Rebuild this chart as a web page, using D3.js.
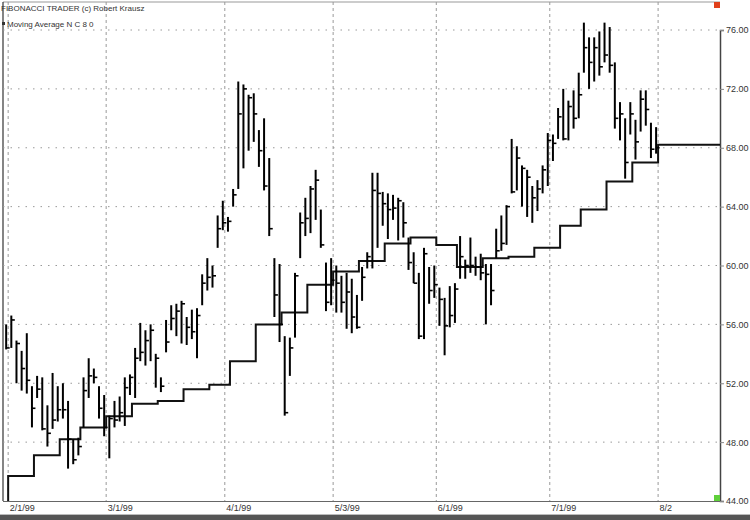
<!DOCTYPE html>
<html>
<head>
<meta charset="utf-8">
<script src="https://cdn.jsdelivr.net/npm/d3@7"></script>
<style>
  body { margin: 0; background: #fff; }
  svg { display: block; font-family: "Liberation Sans", Arial, sans-serif; }
</style>
</head>
<body>
<svg width="750" height="520"></svg>
<script>
// daily bars, one per trading day from 2/1/99 to 8/2/99
const highs = [
  56.0, 56.6, 54.9, 54.2, 55.4, 51.8, 52.5, 52.4, 50.5, 52.7,
  51.8, 52.0, 50.8, 48.2, 48.3, 52.4, 53.7, 53.0, 51.8, 51.2,
  49.8, 50.8, 51.1, 52.4, 52.6, 54.4, 56.1, 55.6, 56.0, 54.0,
  52.4, 56.3, 57.3, 57.4, 57.6, 56.5, 57.0, 57.1, 59.4, 60.5,
  60.0, 63.4, 64.4, 63.3, 65.2, 72.5, 72.3, 71.6, 71.7, 69.2,
  70.0, 67.3, 60.5, 60.1, 55.2, 55.1, 59.5, 63.6, 64.6, 65.4,
  66.5, 63.8, 60.2, 60.5, 60.0, 59.3, 59.5, 59.1, 58.0, 59.9,
  60.9, 66.3, 66.3, 65.0, 64.9, 64.8, 64.6, 64.3, 61.9, 60.9,
  59.5, 61.2, 59.9, 60.0, 58.5, 57.8, 58.6, 58.8, 62.0, 60.4,
  61.9, 60.6, 60.8, 60.1, 60.1, 62.5, 63.4, 64.1, 68.6, 68.1,
  66.8, 66.5, 65.4, 65.8, 66.8, 69.0, 68.9, 70.7, 72.0, 71.2,
  71.9, 73.1, 76.5, 75.5, 75.5, 75.9, 76.5, 76.2, 73.8, 71.1,
  70.0, 71.1, 69.9, 71.9, 71.9, 69.7, 69.4
];
const lows = [
  54.3, 54.4, 52.0, 51.5, 51.3, 49.0, 51.0, 48.8, 47.7, 48.9,
  49.4, 49.6, 46.2, 46.5, 47.1, 49.0, 51.0, 52.0, 49.6, 48.4,
  46.9, 49.0, 49.4, 49.1, 51.2, 51.0, 53.5, 53.2, 53.5, 51.7,
  51.4, 54.1, 55.6, 55.2, 54.7, 54.6, 55.0, 53.7, 57.3, 58.3,
  58.5, 61.2, 62.4, 62.3, 64.0, 65.2, 66.6, 67.8, 68.4, 66.7,
  65.1, 62.0, 56.5, 54.8, 49.8, 52.5, 55.1, 60.5, 62.0, 62.2,
  63.1, 61.2, 56.9, 57.3, 56.8, 56.8, 55.7, 55.4, 55.7, 57.6,
  59.8, 59.8, 61.2, 62.7, 61.8, 63.1, 61.7, 61.9, 59.7, 58.8,
  55.0, 55.0, 57.4, 57.8, 55.9, 53.9, 55.8, 56.1, 59.1, 59.1,
  59.5, 59.3, 59.0, 56.0, 57.3, 60.5, 61.0, 61.4, 64.9, 65.1,
  64.0, 63.3, 62.9, 63.7, 64.9, 65.4, 67.1, 68.6, 68.5, 68.5,
  69.3, 70.0, 73.1, 72.0, 72.5, 72.9, 73.8, 73.1, 69.3, 68.5,
  65.9, 68.9, 67.2, 69.1, 69.5, 67.3, 67.6
];
const closes = [
  54.4, 56.3, 54.7, 53.0, 52.2, 50.3, 51.6, 48.9, 48.6, 49.5,
  50.2, 50.2, 48.2, 46.8, 47.7, 51.5, 52.5, 52.4, 50.3, 49.0,
  49.6, 49.5, 50.0, 51.7, 52.4, 53.7, 54.1, 54.9, 55.6, 53.7,
  51.8, 54.8, 56.4, 56.9, 57.4, 55.8, 55.5, 56.6, 58.8, 59.2,
  59.3, 62.5, 62.9, 63.0, 64.8, 70.3, 72.0, 71.4, 70.3, 67.8,
  65.4, 62.5, 58.0, 56.0, 50.0, 54.4, 59.3, 62.9, 63.2, 65.2,
  65.8, 61.4, 57.5, 59.0, 58.8, 57.5, 58.2, 56.5, 55.8, 59.2,
  60.6, 65.1, 64.9, 64.2, 63.8, 63.9, 64.4, 62.9, 60.2, 58.8,
  55.2, 60.8, 58.3, 58.7, 57.7, 55.9, 56.6, 58.4, 60.6, 60.0,
  60.0, 59.9, 59.5, 59.4, 58.3, 61.0, 61.5, 64.0, 65.0, 67.3,
  66.6, 66.0, 64.6, 65.2, 66.5, 68.5, 68.3, 70.1, 68.6, 70.8,
  70.0, 71.6, 74.8, 73.8, 74.8, 73.5, 74.3, 73.6, 70.0, 70.3,
  67.0, 70.3, 68.4, 71.3, 70.6, 67.9, 68.0
];

// weekly moving average (N C 8 0), one value per week
const maWeeks = [
  "1999-02-01", "1999-02-08", "1999-02-16", "1999-02-22", "1999-03-01",
  "1999-03-08", "1999-03-15", "1999-03-22", "1999-03-29", "1999-04-05",
  "1999-04-12", "1999-04-19", "1999-04-26", "1999-05-03", "1999-05-10",
  "1999-05-17", "1999-05-24", "1999-06-01", "1999-06-07", "1999-06-14",
  "1999-06-21", "1999-06-28", "1999-07-06", "1999-07-12", "1999-07-19",
  "1999-07-26", "1999-08-02"
];
const maValues = [
  45.7, 47.1, 48.2, 49.0, 49.75, 50.6, 50.8, 51.6, 51.9, 53.5,
  56.0, 56.8, 58.7, 59.6, 60.3, 61.5, 61.9, 61.4, 59.9, 60.5,
  60.6, 61.2, 62.7, 63.8, 65.7, 67.0, 68.2
];

const tickDates = ["1999-02-01", "1999-03-01", "1999-04-01", "1999-05-03", "1999-06-01", "1999-07-01", "1999-08-02"];
const tickLabels = ["2/1/99", "3/1/99", "4/1/99", "5/3/99", "6/1/99", "7/1/99", "8/2"];
const priceTicks = [44, 48, 52, 56, 60, 64, 68, 72, 76];
const holidays = ["1999-02-15", "1999-04-02", "1999-05-31", "1999-07-05"];

const svg = d3.select("svg");
const fmt = d3.timeFormat("%Y-%m-%d");

// trading days
const days = d3.timeDay.range(new Date(1999, 1, 1), new Date(1999, 7, 3))
  .filter(d => d.getDay() % 6 !== 0 && !holidays.includes(fmt(d)))
  .map(fmt);
const dayIndex = s => days.indexOf(s);

const plotLeft = 3, plotRight = 720, plotTop = 2, plotBottom = 501;
const x = d3.scaleLinear().domain([-1, 138]).range([plotLeft, plotRight]);
const y = d3.scaleLinear().domain([44, 76]).range([plotBottom, 30]);

// frame
svg.append("line").attr("x1", plotLeft).attr("x2", plotRight).attr("y1", plotTop).attr("y2", plotTop)
  .attr("stroke", "#999");
svg.append("line").attr("x1", plotLeft).attr("x2", plotLeft).attr("y1", plotTop).attr("y2", plotBottom)
  .attr("stroke", "#333").attr("stroke-width", 1.2);

// grid
svg.append("g")
  .selectAll("line")
  .data(priceTicks.slice(1))
  .join("line")
  .attr("x1", plotLeft).attr("x2", plotRight)
  .attr("y1", d => y(d)).attr("y2", d => y(d))
  .attr("stroke", "#999").attr("stroke-dasharray", "1.5,6");

svg.append("g")
  .selectAll("line")
  .data(tickDates)
  .join("line")
  .attr("x1", d => x(dayIndex(d))).attr("x2", d => x(dayIndex(d)))
  .attr("y1", plotTop).attr("y2", plotBottom)
  .attr("stroke", "#999").attr("stroke-dasharray", "3,3");

// axes
const yAxis = svg.append("g")
  .attr("transform", `translate(${plotRight},0)`)
  .call(d3.axisRight(y).tickValues(priceTicks).tickFormat(d3.format(".2f")).tickSize(4).tickPadding(2));
yAxis.select(".domain").attr("stroke", "#444").attr("stroke-width", 1.5);
yAxis.selectAll(".tick line").attr("stroke", "#888");
yAxis.selectAll("text").attr("font-size", 9).attr("fill", "#333")
  .attr("font-family", "Liberation Sans, Arial, sans-serif");

const xAxis = svg.append("g")
  .attr("transform", `translate(0,${plotBottom})`)
  .call(d3.axisBottom(x).tickValues(tickDates.map(dayIndex))
    .tickFormat((d, i) => tickLabels[i]).tickSize(0).tickPadding(4));
xAxis.select(".domain").attr("stroke", "#666").attr("d", `M${plotLeft},0.5H${plotRight}`);
xAxis.selectAll("text").attr("font-size", 9).attr("fill", "#333")
  .attr("text-anchor", "start").attr("dx", 1)
  .attr("font-family", "Liberation Sans, Arial, sans-serif");

// moving average step line
const maPts = [[dayIndex(maWeeks[0]), 44]]
  .concat(maWeeks.map((w, i) => [dayIndex(w), maValues[i]]))
  .concat([[x.domain()[1], maValues[maValues.length - 1]]]);
svg.append("path")
  .datum(maPts)
  .attr("fill", "none")
  .attr("stroke", "#111")
  .attr("stroke-width", 2)
  .attr("d", d3.line().x(d => x(d[0])).y(d => y(d[1])).curve(d3.curveStepAfter));

// price bars
const bars = highs.map((h, i) => ({ i, h, l: lows[i], c: closes[i] }));
const bg = svg.append("g").attr("stroke", "#000").attr("stroke-width", 2);
bg.selectAll("line.bar")
  .data(bars)
  .join("line")
  .attr("class", "bar")
  .attr("x1", d => x(d.i) - 2).attr("x2", d => x(d.i) - 2)
  .attr("y1", d => y(d.h)).attr("y2", d => y(d.l));
bg.selectAll("line.close")
  .data(bars)
  .join("line")
  .attr("class", "close")
  .attr("stroke-width", 1.6)
  .attr("x1", d => x(d.i) - 2).attr("x2", d => x(d.i) + 1.5)
  .attr("y1", d => y(d.c)).attr("y2", d => y(d.c));

// corner markers
svg.append("rect").attr("x", plotRight - 6).attr("y", plotTop).attr("width", 6).attr("height", 6).attr("fill", "#e0401a");
svg.append("rect").attr("x", plotRight - 6).attr("y", plotBottom - 6).attr("width", 6).attr("height", 6).attr("fill", "#5fd03a");

// title / legend
svg.append("text").attr("x", 1).attr("y", 11).attr("font-size", 8).attr("fill", "#333")
  .text("FIBONACCI TRADER (c) Robert Krausz");
svg.append("rect").attr("x", 2).attr("y", 22).attr("width", 3).attr("height", 3).attr("fill", "#333");
svg.append("text").attr("x", 7).attr("y", 27).attr("font-size", 8).attr("fill", "#333")
  .text("Moving Average N C 8 0");

// bottom window edge
svg.append("rect").attr("x", 0).attr("y", 515).attr("width", 750).attr("height", 5).attr("fill", "#555");
svg.append("rect").attr("x", 0).attr("y", 514).attr("width", 750).attr("height", 1).attr("fill", "#bbb");
</script>
</body>
</html>
